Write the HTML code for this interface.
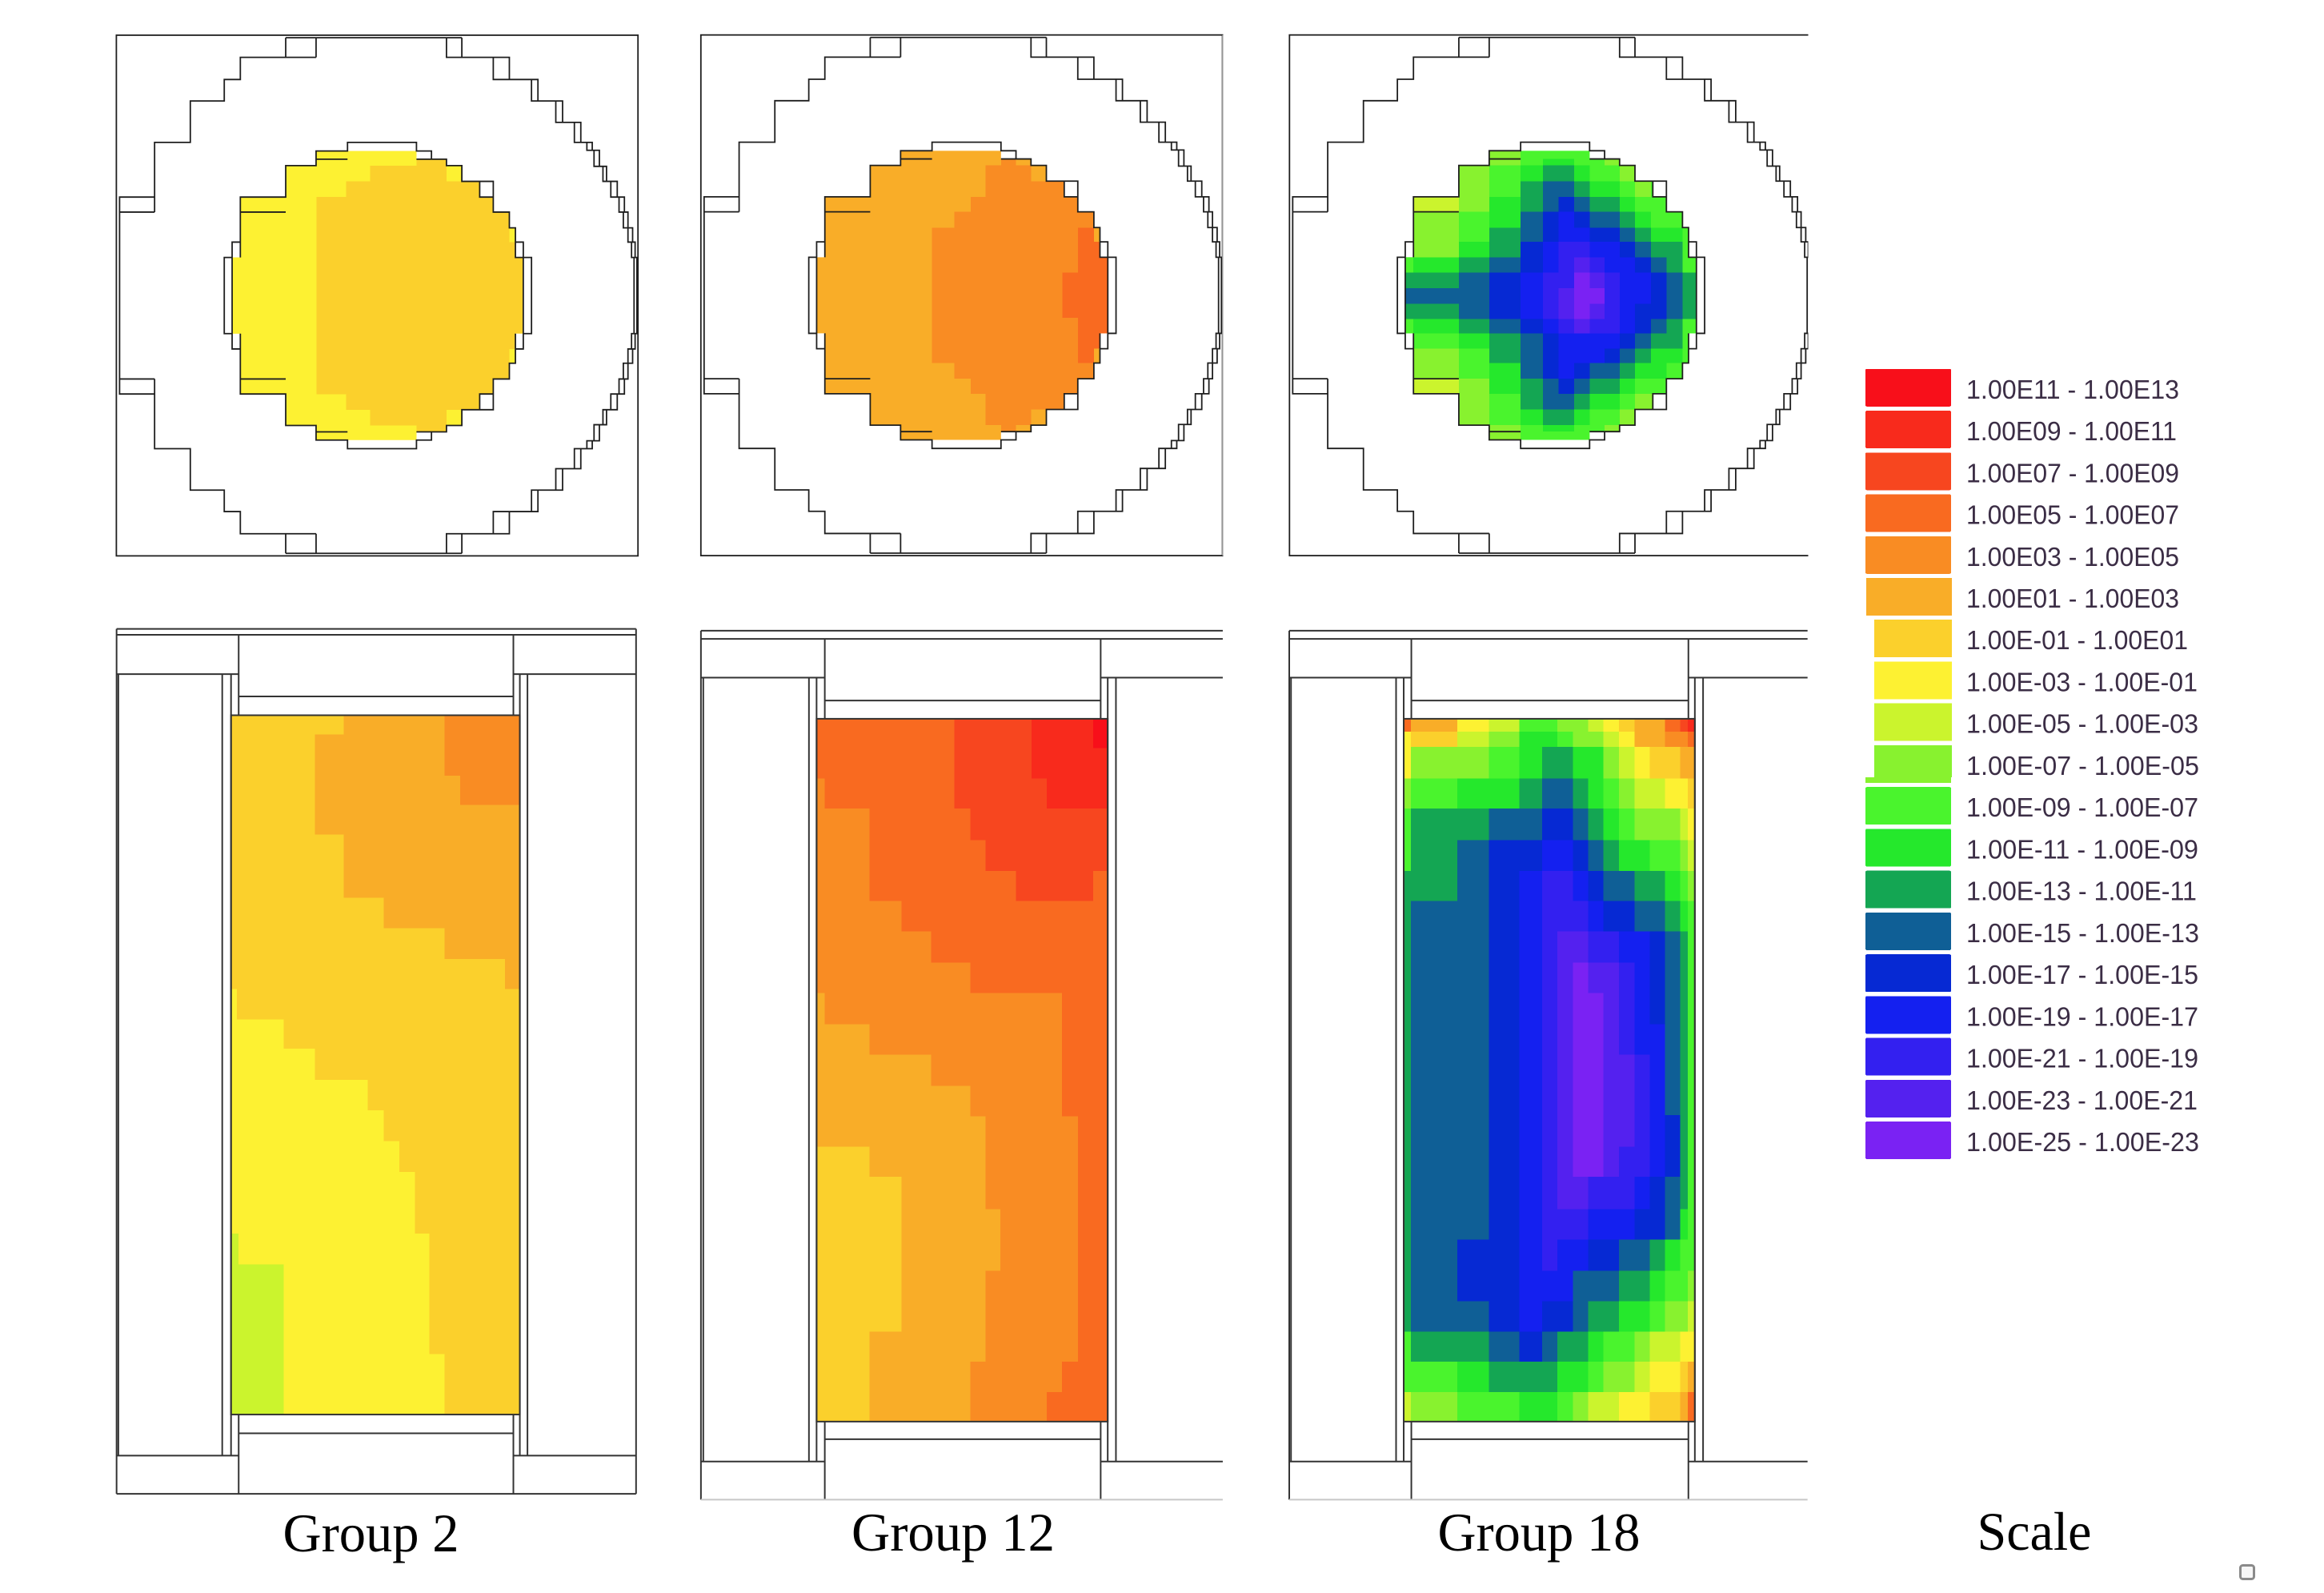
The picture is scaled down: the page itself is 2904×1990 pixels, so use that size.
<!DOCTYPE html>
<html><head><meta charset="utf-8"><style>
html,body{margin:0;padding:0;background:#fff;}
svg{display:block;}
.c0{fill:#f80f1a}.c1{fill:#f82a1c}.c2{fill:#f7461f}.c3{fill:#f96a20}.c4{fill:#f98c23}.c5{fill:#f9ad28}.c6{fill:#fbd02c}.c7{fill:#fdf132}.c8{fill:#cbf42d}.c9{fill:#88f22f}.c10{fill:#4af42d}.c11{fill:#25e82c}.c12{fill:#14a653}.c13{fill:#0f5f96}.c14{fill:#0629d3}.c15{fill:#1420f0}.c16{fill:#3320f0}.c17{fill:#5421ef}.c18{fill:#7a22f3}
.fr{fill:none;stroke:#1e1e1e;stroke-width:4}
.bf{fill:none;stroke:#333;stroke-width:2.7}
.lt{font-family:"Liberation Sans",sans-serif;font-size:33px;fill:#3b2d45}
.gl{font-family:"Liberation Serif",serif;font-size:68px;fill:#000}
</style></head><body>
<svg width="2904" height="1990" viewBox="0 0 2904 1990" xmlns="http://www.w3.org/2000/svg">
<defs>
<clipPath id="fc"><path d="M572 377H853V400H937V418H980V462H1030V506H1068V548H1113V592H1130V675H1152V888H1130V971H1113V1015H1068V1057H1030V1101H980V1145H937V1163H853V1186H572V1145H487V1057H360V888H337V675H360V506H487V418H572Z"/></clipPath>
<g id="tf">
<rect class="fr" x="13" y="53" width="1460" height="1457"/>
<path class="fr" d="M487 60H980 M487 1503H980 M487 60V115 M572 60V115 M487 1448V1503 M572 1448V1503 M937 1448V1503
M572 115H360V177H315V237H220V353H120V506H22V1057H120V1210H220V1326H315V1386H360V1448H572 M22 548H120 M22 1015H120 M120 506V548 M120 1015V1057
M980 60V115H1113V177H1193V237H1262V297H1313V353H1345V375H1365V420H1385V462H1415V506H1435V548H1445V592H1458V632H1465V675H1470V888H1465V931H1458V971H1445V1015H1435V1057H1415V1101H1385V1143H1365V1188H1345V1210H1313V1266H1262V1326H1193V1386H1113V1448H980V1503
M937 60V115H1068V177H1175V237H1243V297H1295V353H1330V375H1350V420H1375V462H1397V506H1420V548H1432V592H1445V632H1455V675H1462V888H1455V931H1445V971H1432V1015H1420V1057H1397V1101H1375V1143H1350V1188H1330V1210H1295V1266H1243V1326H1175V1386H1068V1448H937V1503
M660 353H853V377H895V400H937V418H980V462H1068V548H1113V592H1130V632H1152V675H1175V888H1152V931H1130V971H1113V1015H1068V1101H980V1145H937V1163H895V1186H853V1210H660V1186H572V1145H487V1057H360V931H337V888H315V675H337V632H360V506H487V418H572V377H660Z
M572 400H660 M572 1163H660 M360 548H487 M360 1015H487 M853 400H895 M853 1163H895 M1030 462V506H1068 M1030 1101V1057H1068 M1130 632V675H1152 M1130 888V931 M360 632V675 M360 888V931 M337 675V888 M1152 675V888"/>
</g>
</defs>
<rect width="2904" height="1990" fill="#fff"/>

<!-- TOP: Group 2 -->
<g transform="translate(139.6 20.3) scale(0.44643)">
<g clip-path="url(#fc)" shape-rendering="crispEdges">
<rect class="c6" x="300" y="360" width="900" height="850"/>
<path class="c7" d="M300 360H853V418H723V462H656V506H573V1058H656V1101H723V1145H853V1200H300Z"/>
<rect class="c7" x="937" y="418" width="43" height="44"/><rect class="c7" x="937" y="1101" width="43" height="44"/>
<rect class="c7" x="1113" y="592" width="17" height="40"/><rect class="c7" x="1113" y="931" width="17" height="40"/>
</g>
<use href="#tf"/>
</g>

<!-- TOP: Group 12 -->
<g transform="translate(870 20) scale(0.44643)">
<g clip-path="url(#fc)" shape-rendering="crispEdges">
<rect class="c5" x="300" y="360" width="900" height="850"/>
<path class="c4" d="M810 418H1175V1145H810V1057H768V1015H722V971H660V592H722V548H768V506H810Z"/>
<rect class="c4" x="853" y="400" width="42" height="18"/><rect class="c4" x="853" y="1145" width="42" height="18"/>
<path class="c3" d="M1068 592H1175V971H1068V845H1025V718H1068Z"/>
<rect class="c5" x="937" y="418" width="43" height="44"/><rect class="c5" x="937" y="1101" width="43" height="44"/>
<rect class="c5" x="1113" y="592" width="17" height="40"/><rect class="c5" x="1113" y="931" width="17" height="40"/>
</g>
<use href="#tf"/>
</g>

<!-- TOP: Group 18 -->
<g transform="translate(1605.5 20) scale(0.44643)">
<g clip-path="url(#fc)" shape-rendering="crispEdges">
<rect class="c10" x="300" y="360" width="900" height="850"/>
<rect class="c9" x="572" y="377" width="88" height="23"/><rect class="c10" x="660" y="377" width="235" height="23"/>
<rect class="c9" x="572" y="400" width="88" height="18"/><rect class="c10" x="660" y="400" width="62" height="18"/><rect class="c11" x="722" y="400" width="88" height="18"/><rect class="c10" x="810" y="400" width="85" height="18"/><rect class="c9" x="895" y="400" width="42" height="18"/>
<rect class="c9" x="487" y="418" width="85" height="44"/><rect class="c10" x="572" y="418" width="88" height="44"/><rect class="c11" x="660" y="418" width="62" height="44"/><rect class="c12" x="722" y="418" width="88" height="44"/><rect class="c11" x="810" y="418" width="43" height="44"/><rect class="c10" x="853" y="418" width="84" height="44"/><rect class="c9" x="937" y="418" width="43" height="44"/>
<rect class="c9" x="487" y="462" width="85" height="44"/><rect class="c10" x="572" y="462" width="88" height="44"/><rect class="c12" x="660" y="462" width="62" height="44"/><rect class="c13" x="722" y="462" width="88" height="44"/><rect class="c12" x="810" y="462" width="43" height="44"/><rect class="c11" x="853" y="462" width="84" height="44"/><rect class="c10" x="937" y="462" width="43" height="44"/><rect class="c9" x="980" y="462" width="45" height="44"/>
<rect class="c8" x="315" y="506" width="172" height="42"/><rect class="c9" x="487" y="506" width="85" height="42"/><rect class="c11" x="572" y="506" width="88" height="42"/><rect class="c12" x="660" y="506" width="62" height="42"/><rect class="c13" x="722" y="506" width="44" height="42"/><rect class="c14" x="766" y="506" width="44" height="42"/><rect class="c13" x="810" y="506" width="43" height="42"/><rect class="c12" x="853" y="506" width="84" height="42"/><rect class="c11" x="937" y="506" width="43" height="42"/><rect class="c10" x="980" y="506" width="88" height="42"/>
<rect class="c9" x="315" y="548" width="172" height="44"/><rect class="c10" x="487" y="548" width="85" height="44"/><rect class="c11" x="572" y="548" width="88" height="44"/><rect class="c13" x="660" y="548" width="62" height="44"/><rect class="c14" x="722" y="548" width="44" height="44"/><rect class="c15" x="766" y="548" width="44" height="44"/><rect class="c14" x="810" y="548" width="43" height="44"/><rect class="c13" x="853" y="548" width="84" height="44"/><rect class="c12" x="937" y="548" width="43" height="44"/><rect class="c11" x="980" y="548" width="45" height="44"/><rect class="c10" x="1025" y="548" width="88" height="44"/>
<rect class="c9" x="315" y="592" width="172" height="40"/><rect class="c10" x="487" y="592" width="85" height="40"/><rect class="c12" x="572" y="592" width="88" height="40"/><rect class="c13" x="660" y="592" width="62" height="40"/><rect class="c14" x="722" y="592" width="44" height="40"/><rect class="c15" x="766" y="592" width="87" height="40"/><rect class="c14" x="853" y="592" width="84" height="40"/><rect class="c13" x="937" y="592" width="43" height="40"/><rect class="c12" x="980" y="592" width="45" height="40"/><rect class="c11" x="1025" y="592" width="88" height="40"/><rect class="c10" x="1113" y="592" width="62" height="40"/>
<rect class="c9" x="315" y="632" width="172" height="43"/><rect class="c11" x="487" y="632" width="85" height="43"/><rect class="c12" x="572" y="632" width="88" height="43"/><rect class="c14" x="660" y="632" width="62" height="43"/><rect class="c15" x="722" y="632" width="44" height="43"/><rect class="c16" x="766" y="632" width="87" height="43"/><rect class="c15" x="853" y="632" width="84" height="43"/><rect class="c14" x="937" y="632" width="43" height="43"/><rect class="c13" x="980" y="632" width="45" height="43"/><rect class="c12" x="1025" y="632" width="88" height="43"/><rect class="c10" x="1113" y="632" width="62" height="43"/>
<rect class="c10" x="315" y="675" width="45" height="43"/><rect class="c11" x="360" y="675" width="127" height="43"/><rect class="c12" x="487" y="675" width="85" height="43"/><rect class="c13" x="572" y="675" width="88" height="43"/><rect class="c14" x="660" y="675" width="62" height="43"/><rect class="c15" x="722" y="675" width="44" height="43"/><rect class="c16" x="766" y="675" width="44" height="43"/><rect class="c17" x="810" y="675" width="43" height="43"/><rect class="c16" x="853" y="675" width="42" height="43"/><rect class="c15" x="895" y="675" width="85" height="43"/><rect class="c14" x="980" y="675" width="45" height="43"/><rect class="c13" x="1025" y="675" width="43" height="43"/><rect class="c12" x="1068" y="675" width="45" height="43"/><rect class="c10" x="1113" y="675" width="62" height="43"/>
<rect class="c12" x="315" y="718" width="172" height="44"/><rect class="c13" x="487" y="718" width="85" height="44"/><rect class="c14" x="572" y="718" width="88" height="44"/><rect class="c15" x="660" y="718" width="62" height="44"/><rect class="c16" x="722" y="718" width="88" height="44"/><rect class="c18" x="810" y="718" width="43" height="44"/><rect class="c17" x="853" y="718" width="42" height="44"/><rect class="c16" x="895" y="718" width="42" height="44"/><rect class="c15" x="937" y="718" width="88" height="44"/><rect class="c14" x="1025" y="718" width="43" height="44"/><rect class="c13" x="1068" y="718" width="45" height="44"/><rect class="c12" x="1113" y="718" width="62" height="44"/>
<rect class="c13" x="315" y="762" width="257" height="43"/><rect class="c14" x="572" y="762" width="88" height="43"/><rect class="c15" x="660" y="762" width="62" height="43"/><rect class="c16" x="722" y="762" width="44" height="43"/><rect class="c17" x="766" y="762" width="44" height="43"/><rect class="c18" x="810" y="762" width="85" height="43"/><rect class="c16" x="895" y="762" width="42" height="43"/><rect class="c15" x="937" y="762" width="88" height="43"/><rect class="c14" x="1025" y="762" width="43" height="43"/><rect class="c13" x="1068" y="762" width="45" height="43"/><rect class="c12" x="1113" y="762" width="62" height="43"/>
<rect class="c12" x="315" y="805" width="172" height="43"/><rect class="c13" x="487" y="805" width="85" height="43"/><rect class="c14" x="572" y="805" width="88" height="43"/><rect class="c15" x="660" y="805" width="62" height="43"/><rect class="c16" x="722" y="805" width="44" height="43"/><rect class="c17" x="766" y="805" width="44" height="43"/><rect class="c18" x="810" y="805" width="43" height="43"/><rect class="c17" x="853" y="805" width="42" height="43"/><rect class="c16" x="895" y="805" width="42" height="43"/><rect class="c15" x="937" y="805" width="43" height="43"/><rect class="c14" x="980" y="805" width="88" height="43"/><rect class="c13" x="1068" y="805" width="45" height="43"/><rect class="c12" x="1113" y="805" width="62" height="43"/>
<rect class="c10" x="315" y="848" width="45" height="40"/><rect class="c11" x="360" y="848" width="127" height="40"/><rect class="c12" x="487" y="848" width="85" height="40"/><rect class="c13" x="572" y="848" width="88" height="40"/><rect class="c14" x="660" y="848" width="62" height="40"/><rect class="c15" x="722" y="848" width="44" height="40"/><rect class="c16" x="766" y="848" width="44" height="40"/><rect class="c17" x="810" y="848" width="43" height="40"/><rect class="c16" x="853" y="848" width="84" height="40"/><rect class="c15" x="937" y="848" width="43" height="40"/><rect class="c14" x="980" y="848" width="45" height="40"/><rect class="c13" x="1025" y="848" width="43" height="40"/><rect class="c12" x="1068" y="848" width="45" height="40"/><rect class="c10" x="1113" y="848" width="62" height="40"/>
<rect class="c10" x="315" y="888" width="172" height="43"/><rect class="c11" x="487" y="888" width="85" height="43"/><rect class="c12" x="572" y="888" width="88" height="43"/><rect class="c13" x="660" y="888" width="62" height="43"/><rect class="c14" x="722" y="888" width="44" height="43"/><rect class="c15" x="766" y="888" width="171" height="43"/><rect class="c14" x="937" y="888" width="43" height="43"/><rect class="c13" x="980" y="888" width="45" height="43"/><rect class="c12" x="1025" y="888" width="88" height="43"/><rect class="c10" x="1113" y="888" width="62" height="43"/>
<rect class="c9" x="315" y="931" width="172" height="40"/><rect class="c10" x="487" y="931" width="85" height="40"/><rect class="c12" x="572" y="931" width="88" height="40"/><rect class="c13" x="660" y="931" width="62" height="40"/><rect class="c14" x="722" y="931" width="44" height="40"/><rect class="c15" x="766" y="931" width="129" height="40"/><rect class="c14" x="895" y="931" width="42" height="40"/><rect class="c13" x="937" y="931" width="43" height="40"/><rect class="c12" x="980" y="931" width="45" height="40"/><rect class="c11" x="1025" y="931" width="88" height="40"/><rect class="c10" x="1113" y="931" width="62" height="40"/>
<rect class="c9" x="315" y="971" width="172" height="44"/><rect class="c10" x="487" y="971" width="85" height="44"/><rect class="c11" x="572" y="971" width="88" height="44"/><rect class="c13" x="660" y="971" width="62" height="44"/><rect class="c14" x="722" y="971" width="44" height="44"/><rect class="c15" x="766" y="971" width="44" height="44"/><rect class="c14" x="810" y="971" width="43" height="44"/><rect class="c13" x="853" y="971" width="84" height="44"/><rect class="c12" x="937" y="971" width="43" height="44"/><rect class="c11" x="980" y="971" width="88" height="44"/><rect class="c10" x="1068" y="971" width="107" height="44"/>
<rect class="c8" x="315" y="1015" width="172" height="42"/><rect class="c9" x="487" y="1015" width="85" height="42"/><rect class="c11" x="572" y="1015" width="88" height="42"/><rect class="c12" x="660" y="1015" width="62" height="42"/><rect class="c13" x="722" y="1015" width="44" height="42"/><rect class="c14" x="766" y="1015" width="44" height="42"/><rect class="c13" x="810" y="1015" width="43" height="42"/><rect class="c12" x="853" y="1015" width="84" height="42"/><rect class="c11" x="937" y="1015" width="43" height="42"/><rect class="c10" x="980" y="1015" width="88" height="42"/>
<rect class="c9" x="487" y="1057" width="85" height="44"/><rect class="c10" x="572" y="1057" width="88" height="44"/><rect class="c12" x="660" y="1057" width="62" height="44"/><rect class="c13" x="722" y="1057" width="88" height="44"/><rect class="c12" x="810" y="1057" width="43" height="44"/><rect class="c11" x="853" y="1057" width="84" height="44"/><rect class="c10" x="937" y="1057" width="43" height="44"/><rect class="c9" x="980" y="1057" width="88" height="44"/>
<rect class="c9" x="487" y="1101" width="85" height="44"/><rect class="c10" x="572" y="1101" width="88" height="44"/><rect class="c11" x="660" y="1101" width="62" height="44"/><rect class="c12" x="722" y="1101" width="88" height="44"/><rect class="c11" x="810" y="1101" width="43" height="44"/><rect class="c10" x="853" y="1101" width="84" height="44"/><rect class="c9" x="937" y="1101" width="43" height="44"/>
<rect class="c9" x="572" y="1145" width="88" height="18"/><rect class="c10" x="660" y="1145" width="62" height="18"/><rect class="c11" x="722" y="1145" width="88" height="18"/><rect class="c10" x="810" y="1145" width="85" height="18"/><rect class="c9" x="895" y="1145" width="42" height="18"/>
<rect class="c9" x="572" y="1163" width="88" height="23"/><rect class="c10" x="660" y="1163" width="235" height="23"/>
</g>
<use href="#tf"/>
</g>

<!-- BOTTOM: Group 2 -->
<g transform="translate(120 760) scale(0.73348)">
<g shape-rendering="crispEdges">
<rect class="c6" x="230" y="182" width="492" height="1191"/>
<path class="c5" d="M422 182H722V648H697V597H594V545H490V493H422V385H373V215H422Z"/>
<path class="c4" d="M594 182H722V335H620V285H594Z"/>
<path class="c7" d="M230 648H240V700H320V750H373V803H463V855H490V907H517V960H543V1065H568V1270H594V1373H230Z"/>
<path class="c8" d="M230 1065H243V1117H320V1373H230Z"/>
</g>
<rect class="bf" x="230" y="182" width="492" height="1191"/>
<path class="bf" d="M35 35H920 M35 45H920 M35 35V1508 M920 35V1508 M38 112V1443 M35 112H243 M711 112H920 M35 1443H243 M711 1443H920 M35 1508H920 M215 112V1443 M230 112V1443 M722 112V1443 M735 112V1443 M243 45V182 M711 45V182 M243 1373V1508 M711 1373V1508 M243 150H711 M243 1405H711"/>
</g>

<!-- BOTTOM: Group 12 -->
<g transform="translate(870 760) scale(0.73348)">
<g shape-rendering="crispEdges">
<rect class="c3" x="205" y="188" width="496" height="1197"/>
<path class="c2" d="M440 188H701V447H676V498H545V447H493V395H467V341H440Z"/>
<path class="c1" d="M571 188H701V341H597V290H571Z"/>
<rect class="c0" x="676" y="188" width="25" height="50"/>
<path class="c4" d="M205 290H219V341H295V498H350V550H400V603H467V655H623V865H650V1283H623V1335H597V1385H205Z"/>
<path class="c5" d="M205 655H219V708H295V760H400V813H467V865H493V1023H518V1128H493V1283H467V1385H205Z"/>
<path class="c6" d="M205 917H295V968H350V1232H295V1385H205Z"/>
</g>
<rect class="bf" x="205" y="188" width="496" height="1197"/>
<path class="bf" d="M8 38H897 M8 52H897 M8 38V1518 M12 118V1453 M8 118H219 M689 118H897 M8 1453H219 M689 1453H897 M192 118V1453 M205 118V1453 M701 118V1453 M715 118V1453 M219 52V188 M689 52V188 M219 1385V1518 M689 1385V1518 M219 157H689 M219 1415H689"/>
<path d="M8 1518H897" stroke="#c8c8c8" stroke-width="2.7" fill="none"/>
</g>

<!-- BOTTOM: Group 18 -->
<g transform="translate(1600 760) scale(0.73348)">
<g shape-rendering="crispEdges">
<rect class="c3" x="210" y="188" width="12" height="22"/><rect class="c5" x="222" y="188" width="79" height="22"/><rect class="c7" x="301" y="188" width="54" height="22"/><rect class="c8" x="355" y="188" width="52" height="22"/><rect class="c10" x="407" y="188" width="65" height="22"/><rect class="c9" x="472" y="188" width="52" height="22"/><rect class="c8" x="524" y="188" width="26" height="22"/><rect class="c7" x="550" y="188" width="27" height="22"/><rect class="c6" x="577" y="188" width="26" height="22"/><rect class="c5" x="603" y="188" width="52" height="22"/><rect class="c3" x="655" y="188" width="26" height="22"/><rect class="c2" x="681" y="188" width="13" height="22"/><rect class="c1" x="694" y="188" width="12" height="22"/>
<rect class="c7" x="210" y="210" width="12" height="26"/><rect class="c6" x="222" y="210" width="79" height="26"/><rect class="c8" x="301" y="210" width="54" height="26"/><rect class="c9" x="355" y="210" width="52" height="26"/><rect class="c11" x="407" y="210" width="65" height="26"/><rect class="c10" x="472" y="210" width="26" height="26"/><rect class="c9" x="498" y="210" width="52" height="26"/><rect class="c8" x="550" y="210" width="27" height="26"/><rect class="c7" x="577" y="210" width="26" height="26"/><rect class="c5" x="603" y="210" width="52" height="26"/><rect class="c4" x="655" y="210" width="39" height="26"/><rect class="c3" x="694" y="210" width="12" height="26"/>
<rect class="c7" x="210" y="236" width="12" height="54"/><rect class="c9" x="222" y="236" width="133" height="54"/><rect class="c10" x="355" y="236" width="52" height="54"/><rect class="c11" x="407" y="236" width="39" height="54"/><rect class="c12" x="446" y="236" width="52" height="54"/><rect class="c11" x="498" y="236" width="52" height="54"/><rect class="c9" x="550" y="236" width="27" height="54"/><rect class="c8" x="577" y="236" width="26" height="54"/><rect class="c7" x="603" y="236" width="26" height="54"/><rect class="c6" x="629" y="236" width="52" height="54"/><rect class="c5" x="681" y="236" width="25" height="54"/>
<rect class="c9" x="210" y="290" width="12" height="51"/><rect class="c10" x="222" y="290" width="79" height="51"/><rect class="c11" x="301" y="290" width="106" height="51"/><rect class="c12" x="407" y="290" width="39" height="51"/><rect class="c13" x="446" y="290" width="52" height="51"/><rect class="c12" x="498" y="290" width="26" height="51"/><rect class="c11" x="524" y="290" width="26" height="51"/><rect class="c10" x="550" y="290" width="27" height="51"/><rect class="c9" x="577" y="290" width="26" height="51"/><rect class="c8" x="603" y="290" width="52" height="51"/><rect class="c7" x="655" y="290" width="39" height="51"/><rect class="c6" x="694" y="290" width="12" height="51"/>
<rect class="c10" x="210" y="341" width="12" height="54"/><rect class="c12" x="222" y="341" width="133" height="54"/><rect class="c13" x="355" y="341" width="91" height="54"/><rect class="c14" x="446" y="341" width="52" height="54"/><rect class="c13" x="498" y="341" width="26" height="54"/><rect class="c12" x="524" y="341" width="26" height="54"/><rect class="c11" x="550" y="341" width="27" height="54"/><rect class="c10" x="577" y="341" width="26" height="54"/><rect class="c9" x="603" y="341" width="78" height="54"/><rect class="c8" x="681" y="341" width="13" height="54"/><rect class="c7" x="694" y="341" width="12" height="54"/>
<rect class="c10" x="210" y="395" width="12" height="52"/><rect class="c12" x="222" y="395" width="79" height="52"/><rect class="c13" x="301" y="395" width="54" height="52"/><rect class="c14" x="355" y="395" width="91" height="52"/><rect class="c15" x="446" y="395" width="52" height="52"/><rect class="c14" x="498" y="395" width="26" height="52"/><rect class="c13" x="524" y="395" width="26" height="52"/><rect class="c12" x="550" y="395" width="27" height="52"/><rect class="c11" x="577" y="395" width="52" height="52"/><rect class="c10" x="629" y="395" width="52" height="52"/><rect class="c9" x="681" y="395" width="13" height="52"/><rect class="c8" x="694" y="395" width="12" height="52"/>
<rect class="c12" x="210" y="447" width="91" height="51"/><rect class="c13" x="301" y="447" width="54" height="51"/><rect class="c14" x="355" y="447" width="52" height="51"/><rect class="c15" x="407" y="447" width="39" height="51"/><rect class="c16" x="446" y="447" width="52" height="51"/><rect class="c15" x="498" y="447" width="26" height="51"/><rect class="c14" x="524" y="447" width="26" height="51"/><rect class="c13" x="550" y="447" width="53" height="51"/><rect class="c12" x="603" y="447" width="52" height="51"/><rect class="c11" x="655" y="447" width="26" height="51"/><rect class="c10" x="681" y="447" width="13" height="51"/><rect class="c9" x="694" y="447" width="12" height="51"/>
<!-- left block rows 6-16 -->
<rect class="c12" x="210" y="498" width="12" height="630"/><rect class="c13" x="222" y="498" width="133" height="577"/><rect class="c14" x="355" y="498" width="52" height="577"/><rect class="c15" x="407" y="498" width="39" height="577"/>
<rect class="c16" x="446" y="498" width="78" height="52"/><rect class="c15" x="524" y="498" width="26" height="52"/><rect class="c14" x="550" y="498" width="53" height="52"/><rect class="c13" x="603" y="498" width="52" height="52"/><rect class="c12" x="655" y="498" width="26" height="52"/><rect class="c11" x="681" y="498" width="13" height="52"/><rect class="c10" x="694" y="498" width="12" height="52"/>
<rect class="c16" x="446" y="550" width="26" height="53"/><rect class="c17" x="472" y="550" width="52" height="53"/><rect class="c16" x="524" y="550" width="53" height="53"/><rect class="c15" x="577" y="550" width="52" height="53"/><rect class="c14" x="629" y="550" width="26" height="53"/><rect class="c13" x="655" y="550" width="26" height="53"/><rect class="c12" x="681" y="550" width="13" height="53"/><rect class="c10" x="694" y="550" width="12" height="53"/>
<rect class="c16" x="446" y="603" width="26" height="52"/><rect class="c17" x="472" y="603" width="26" height="52"/><rect class="c18" x="498" y="603" width="26" height="52"/><rect class="c17" x="524" y="603" width="53" height="52"/><rect class="c16" x="577" y="603" width="26" height="52"/><rect class="c15" x="603" y="603" width="26" height="52"/><rect class="c14" x="629" y="603" width="26" height="52"/><rect class="c13" x="655" y="603" width="26" height="52"/><rect class="c12" x="681" y="603" width="13" height="52"/><rect class="c10" x="694" y="603" width="12" height="52"/>
<rect class="c16" x="446" y="655" width="26" height="105"/><rect class="c17" x="472" y="655" width="26" height="105"/><rect class="c18" x="498" y="655" width="52" height="105"/><rect class="c17" x="550" y="655" width="27" height="105"/><rect class="c16" x="577" y="655" width="26" height="105"/><rect class="c15" x="603" y="655" width="26" height="105"/><rect class="c14" x="629" y="655" width="26" height="53"/><rect class="c15" x="629" y="708" width="26" height="52"/><rect class="c13" x="655" y="655" width="26" height="105"/><rect class="c12" x="681" y="655" width="13" height="105"/><rect class="c10" x="694" y="655" width="12" height="105"/>
<rect class="c16" x="446" y="760" width="26" height="157"/><rect class="c17" x="472" y="760" width="26" height="157"/><rect class="c18" x="498" y="760" width="52" height="157"/><rect class="c17" x="550" y="760" width="53" height="157"/><rect class="c16" x="603" y="760" width="26" height="157"/><rect class="c15" x="629" y="760" width="26" height="157"/><rect class="c13" x="655" y="760" width="26" height="103"/><rect class="c14" x="655" y="863" width="26" height="54"/><rect class="c12" x="681" y="760" width="13" height="157"/><rect class="c10" x="694" y="760" width="12" height="157"/>
<rect class="c16" x="446" y="917" width="26" height="51"/><rect class="c17" x="472" y="917" width="26" height="51"/><rect class="c18" x="498" y="917" width="52" height="51"/><rect class="c17" x="550" y="917" width="27" height="51"/><rect class="c16" x="577" y="917" width="52" height="51"/><rect class="c15" x="629" y="917" width="26" height="51"/><rect class="c14" x="655" y="917" width="26" height="51"/><rect class="c12" x="681" y="917" width="13" height="51"/><rect class="c10" x="694" y="917" width="12" height="51"/>
<rect class="c16" x="446" y="968" width="26" height="55"/><rect class="c17" x="472" y="968" width="52" height="55"/><rect class="c16" x="524" y="968" width="79" height="55"/><rect class="c15" x="603" y="968" width="26" height="55"/><rect class="c14" x="629" y="968" width="26" height="55"/><rect class="c13" x="655" y="968" width="26" height="55"/><rect class="c12" x="681" y="968" width="13" height="55"/><rect class="c10" x="694" y="968" width="12" height="55"/>
<rect class="c16" x="446" y="1023" width="78" height="52"/><rect class="c15" x="524" y="1023" width="79" height="52"/><rect class="c14" x="603" y="1023" width="52" height="52"/><rect class="c13" x="655" y="1023" width="26" height="52"/><rect class="c11" x="681" y="1023" width="13" height="52"/><rect class="c10" x="694" y="1023" width="12" height="52"/>
<rect class="c13" x="222" y="1075" width="79" height="53"/><rect class="c14" x="301" y="1075" width="106" height="53"/><rect class="c15" x="407" y="1075" width="39" height="53"/><rect class="c16" x="446" y="1075" width="26" height="53"/><rect class="c15" x="472" y="1075" width="52" height="53"/><rect class="c14" x="524" y="1075" width="53" height="53"/><rect class="c13" x="577" y="1075" width="52" height="53"/><rect class="c12" x="629" y="1075" width="26" height="53"/><rect class="c11" x="655" y="1075" width="26" height="53"/><rect class="c10" x="681" y="1075" width="25" height="53"/>
<rect class="c12" x="210" y="1128" width="12" height="104"/><rect class="c13" x="222" y="1128" width="79" height="52"/><rect class="c14" x="301" y="1128" width="106" height="52"/><rect class="c15" x="407" y="1128" width="91" height="52"/><rect class="c13" x="498" y="1128" width="79" height="52"/><rect class="c12" x="577" y="1128" width="52" height="52"/><rect class="c11" x="629" y="1128" width="26" height="52"/><rect class="c10" x="655" y="1128" width="39" height="52"/><rect class="c9" x="694" y="1128" width="12" height="52"/>
<rect class="c13" x="222" y="1180" width="133" height="52"/><rect class="c14" x="355" y="1180" width="52" height="52"/><rect class="c15" x="407" y="1180" width="39" height="52"/><rect class="c14" x="446" y="1180" width="52" height="52"/><rect class="c13" x="498" y="1180" width="26" height="52"/><rect class="c12" x="524" y="1180" width="53" height="52"/><rect class="c11" x="577" y="1180" width="52" height="52"/><rect class="c10" x="629" y="1180" width="26" height="52"/><rect class="c9" x="655" y="1180" width="39" height="52"/><rect class="c8" x="694" y="1180" width="12" height="52"/>
<rect class="c10" x="210" y="1232" width="12" height="51"/><rect class="c12" x="222" y="1232" width="133" height="51"/><rect class="c13" x="355" y="1232" width="52" height="51"/><rect class="c14" x="407" y="1232" width="39" height="51"/><rect class="c13" x="446" y="1232" width="26" height="51"/><rect class="c12" x="472" y="1232" width="52" height="51"/><rect class="c11" x="524" y="1232" width="26" height="51"/><rect class="c10" x="550" y="1232" width="53" height="51"/><rect class="c9" x="603" y="1232" width="26" height="51"/><rect class="c8" x="629" y="1232" width="52" height="51"/><rect class="c7" x="681" y="1232" width="25" height="51"/>
<rect class="c10" x="210" y="1283" width="91" height="52"/><rect class="c11" x="301" y="1283" width="54" height="52"/><rect class="c12" x="355" y="1283" width="117" height="52"/><rect class="c11" x="472" y="1283" width="52" height="52"/><rect class="c10" x="524" y="1283" width="26" height="52"/><rect class="c9" x="550" y="1283" width="53" height="52"/><rect class="c8" x="603" y="1283" width="26" height="52"/><rect class="c7" x="629" y="1283" width="52" height="52"/><rect class="c6" x="681" y="1283" width="13" height="52"/><rect class="c5" x="694" y="1283" width="12" height="52"/>
<rect class="c8" x="210" y="1335" width="12" height="50"/><rect class="c9" x="222" y="1335" width="79" height="50"/><rect class="c10" x="301" y="1335" width="106" height="50"/><rect class="c11" x="407" y="1335" width="65" height="50"/><rect class="c10" x="472" y="1335" width="26" height="50"/><rect class="c9" x="498" y="1335" width="26" height="50"/><rect class="c8" x="524" y="1335" width="53" height="50"/><rect class="c7" x="577" y="1335" width="52" height="50"/><rect class="c6" x="629" y="1335" width="52" height="50"/><rect class="c5" x="681" y="1335" width="13" height="50"/><rect class="c3" x="694" y="1335" width="12" height="50"/>
</g>
<rect class="bf" x="210" y="188" width="496" height="1197"/>
<path class="bf" d="M15 38H898 M15 52H898 M15 38V1518 M18 118V1453 M15 118H223 M695 118H898 M15 1453H223 M695 1453H898 M197 118V1453 M210 118V1453 M706 118V1453 M720 118V1453 M223 52V188 M695 52V188 M223 1385V1518 M695 1385V1518 M223 157H695 M223 1415H695"/>
<path d="M15 1518H898" stroke="#c8c8c8" stroke-width="2.7" fill="none"/>
</g>

<!-- clip overlays for cut-off right edges -->
<rect x="1529" y="20" width="78" height="1870" fill="#fff"/>
<rect x="2259.5" y="20" width="66" height="1870" fill="#fff"/>
<line x1="1528" y1="43.7" x2="1528" y2="694" stroke="#bdbdbd" stroke-width="1.5"/>

<!-- Legend -->
<g shape-rendering="crispEdges">
<rect class="c0" x="2331" y="460.8" width="107" height="47" rx="2"/>
<rect class="c1" x="2331" y="513.0" width="107" height="47" rx="2"/>
<rect class="c2" x="2331" y="565.3" width="107" height="47" rx="2"/>
<rect class="c3" x="2331" y="617.5" width="107" height="47" rx="2"/>
<rect class="c4" x="2331" y="669.8" width="107" height="47" rx="2"/>
<rect class="c5" x="2332" y="722.0" width="107" height="47"/>
<rect class="c6" x="2342" y="774.2" width="97" height="47"/>
<rect class="c7" x="2342" y="826.5" width="97" height="47"/>
<rect class="c8" x="2342" y="878.7" width="97" height="47"/>
<rect class="c9" x="2342" y="931.0" width="97" height="40"/><rect class="c9" x="2331" y="971" width="107" height="7"/>
<rect class="c10" x="2331" y="983.2" width="107" height="47" rx="2"/>
<rect class="c11" x="2331" y="1035.4" width="107" height="47" rx="2"/>
<rect class="c12" x="2331" y="1087.7" width="107" height="47" rx="2"/>
<rect class="c13" x="2331" y="1139.9" width="107" height="47" rx="2"/>
<rect class="c14" x="2331" y="1192.2" width="107" height="47" rx="2"/>
<rect class="c15" x="2331" y="1244.4" width="107" height="47" rx="2"/>
<rect class="c16" x="2331" y="1296.6" width="107" height="47" rx="2"/>
<rect class="c17" x="2331" y="1348.9" width="107" height="47" rx="2"/>
<rect class="c18" x="2331" y="1401.1" width="107" height="47" rx="2"/>
</g>
<g class="lt">
<text x="2457" y="497.8" textLength="266" lengthAdjust="spacingAndGlyphs">1.00E11 - 1.00E13</text>
<text x="2457" y="550.0" textLength="263" lengthAdjust="spacingAndGlyphs">1.00E09 - 1.00E11</text>
<text x="2457" y="602.3" textLength="266" lengthAdjust="spacingAndGlyphs">1.00E07 - 1.00E09</text>
<text x="2457" y="654.5" textLength="266" lengthAdjust="spacingAndGlyphs">1.00E05 - 1.00E07</text>
<text x="2457" y="706.8" textLength="266" lengthAdjust="spacingAndGlyphs">1.00E03 - 1.00E05</text>
<text x="2457" y="759.0" textLength="266" lengthAdjust="spacingAndGlyphs">1.00E01 - 1.00E03</text>
<text x="2457" y="811.2" textLength="277" lengthAdjust="spacingAndGlyphs">1.00E-01 - 1.00E01</text>
<text x="2457" y="863.5" textLength="289" lengthAdjust="spacingAndGlyphs">1.00E-03 - 1.00E-01</text>
<text x="2457" y="915.7" textLength="290" lengthAdjust="spacingAndGlyphs">1.00E-05 - 1.00E-03</text>
<text x="2457" y="968.0" textLength="291" lengthAdjust="spacingAndGlyphs">1.00E-07 - 1.00E-05</text>
<text x="2457" y="1020.2" textLength="290" lengthAdjust="spacingAndGlyphs">1.00E-09 - 1.00E-07</text>
<text x="2457" y="1072.4" textLength="290" lengthAdjust="spacingAndGlyphs">1.00E-11 - 1.00E-09</text>
<text x="2457" y="1124.7" textLength="288" lengthAdjust="spacingAndGlyphs">1.00E-13 - 1.00E-11</text>
<text x="2457" y="1176.9" textLength="291" lengthAdjust="spacingAndGlyphs">1.00E-15 - 1.00E-13</text>
<text x="2457" y="1229.2" textLength="290" lengthAdjust="spacingAndGlyphs">1.00E-17 - 1.00E-15</text>
<text x="2457" y="1281.4" textLength="290" lengthAdjust="spacingAndGlyphs">1.00E-19 - 1.00E-17</text>
<text x="2457" y="1333.6" textLength="290" lengthAdjust="spacingAndGlyphs">1.00E-21 - 1.00E-19</text>
<text x="2457" y="1385.9" textLength="289" lengthAdjust="spacingAndGlyphs">1.00E-23 - 1.00E-21</text>
<text x="2457" y="1438.1" textLength="291" lengthAdjust="spacingAndGlyphs">1.00E-25 - 1.00E-23</text>
</g>

<!-- Labels -->
<text class="gl" x="463.5" y="1938" text-anchor="middle" textLength="220" lengthAdjust="spacingAndGlyphs">Group 2</text>
<text class="gl" x="1191" y="1937" text-anchor="middle" textLength="254" lengthAdjust="spacingAndGlyphs">Group 12</text>
<text class="gl" x="1923" y="1937" text-anchor="middle" textLength="253" lengthAdjust="spacingAndGlyphs">Group 18</text>
<text class="gl" x="2542" y="1936" text-anchor="middle" textLength="143" lengthAdjust="spacingAndGlyphs">Scale</text>
<rect x="2799.5" y="1955.5" width="17" height="17" rx="3" fill="#f6f6f6" stroke="#8a8a8a" stroke-width="3"/>
</svg>
</body></html>
